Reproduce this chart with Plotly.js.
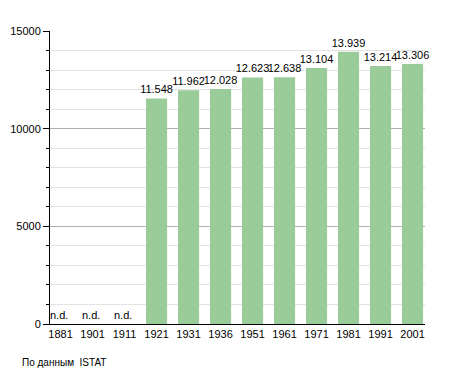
<!DOCTYPE html>
<html><head><meta charset="utf-8">
<script src="https://cdn.plot.ly/plotly-3.0.1.min.js"></script>
<style>body{margin:0;background:#fff}#c{width:455px;height:373px}</style>
</head><body><div id="c"></div>
<script>
const years = ["1881","1901","1911","1921","1931","1936","1951","1961","1971","1981","1991","2001"];
const population = [null,null,null,11548,11962,12028,12623,12638,13104,13939,13214,13306];
const valueLabels = ["","","","11.548","11.962","12.028","12.623","12.638","13.104","13.939","13.214","13.306"];
const missingLabel = "n.d.";
const sourceText = "По данным  ISTAT";

const font = "Liberation Sans, Arial, sans-serif";
const annotations = [];
years.forEach((y,i)=>{
  if(population[i]===null){
    annotations.push({x:i,y:0,xref:'x',yref:'y',text:missingLabel,showarrow:false,
      yanchor:'bottom',xanchor:'center',xshift:-2,yshift:1,font:{family:font,size:11,color:'#000'}});
  }
});
annotations.push({x:(20-50)/(455-50-30),y:(373-362-49)/(373-31-49),xref:'paper',yref:'paper',
  text:sourceText,showarrow:false,xanchor:'left',yanchor:'middle',font:{family:font,size:10,color:'#000'}});

const trace = {type:'bar',x:years,y:population,text:valueLabels,textposition:'outside',
  constraintext:'none',
  textfont:{family:font,size:11,color:'#000'},cliponaxis:false,
  marker:{color:'#99cc99',line:{width:0}},width:0.66,hoverinfo:'none'};

const layout = {width:455,height:373,margin:{l:50,r:30,t:31,b:49},
  paper_bgcolor:'#fff',plot_bgcolor:'#fff',showlegend:false,
  font:{family:font,size:11,color:'#000'},
  xaxis:{type:'category',range:[-0.33,11.39],showline:true,linecolor:'#000',linewidth:1,
    ticks:'',showgrid:false,tickfont:{family:font,size:11},zeroline:false},
  yaxis:{range:[0,15000],tickvals:[0,5000,10000,15000],ticktext:["0","5000","10000","15000"],
    showline:true,linecolor:'#000',linewidth:1,ticks:'outside',ticklen:6,tickcolor:'#000',
    showgrid:true,gridcolor:'#b0b0b0',zeroline:false,tickfont:{family:font,size:11},
    minor:{dtick:1000,ticks:'outside',ticklen:3,tickcolor:'#000',showgrid:true,gridcolor:'#e2e2e2'}},
  annotations:annotations};
Plotly.newPlot('c',[trace],layout,{staticPlot:true,displayModeBar:false});
</script></body></html>
